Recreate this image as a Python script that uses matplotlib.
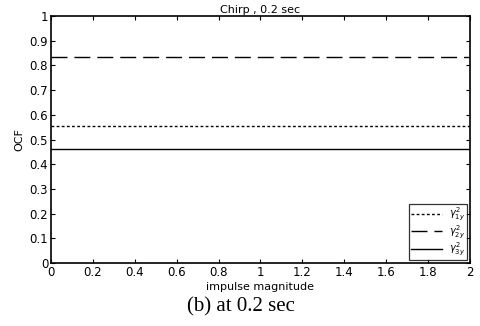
import matplotlib
matplotlib.use("Agg")
import matplotlib.pyplot as plt
import numpy as np

# impulse magnitude sweep and the (constant) OCF for each gamma
impulse = [0.0, 0.5, 1.0, 1.5, 2.0]
gamma_1y = [0.553, 0.553, 0.553, 0.553, 0.553]
gamma_2y = [0.833, 0.833, 0.833, 0.833, 0.833]
gamma_3y = [0.462, 0.462, 0.462, 0.462, 0.462]

x_ticks = [0, 0.2, 0.4, 0.6, 0.8, 1, 1.2, 1.4, 1.6, 1.8, 2]
x_tick_labels = ["0", "0.2", "0.4", "0.6", "0.8", "1", "1.2", "1.4", "1.6", "1.8", "2"]
y_ticks = [0, 0.1, 0.2, 0.3, 0.4, 0.5, 0.6, 0.7, 0.8, 0.9, 1]
y_tick_labels = ["0", "0.1", "0.2", "0.3", "0.4", "0.5", "0.6", "0.7", "0.8", "0.9", "1"]

fig = plt.figure(figsize=(4.81, 3.26), dpi=100)
ax = fig.add_axes([0.106, 0.193, 0.871, 0.758])

ax.plot(impulse, gamma_1y, linestyle=(0, (2, 1.7)), color="black", lw=1.0,
        label=r"$\gamma^2_{1y}$")
ax.plot(impulse, gamma_2y, linestyle=(0, (11.5, 5)), color="black", lw=1.0,
        label=r"$\gamma^2_{2y}$")
ax.plot(impulse, gamma_3y, "-", color="black", lw=1.0,
        label=r"$\gamma^2_{3y}$")

ax.set_xlim(0, 2)
ax.set_ylim(0, 1)
ax.set_xticks(x_ticks)
ax.set_xticklabels(x_tick_labels)
ax.set_yticks(y_ticks)
ax.set_yticklabels(y_tick_labels)
ax.tick_params(direction="in", top=True, right=True, labelsize=8.5, length=3, pad=2)
for s in ax.spines.values():
    s.set_linewidth(1.2)

ax.set_title("Chirp , 0.2 sec", fontsize=8, pad=2)
ax.set_xlabel("impulse magnitude", fontsize=8, labelpad=2)
ax.set_ylabel("OCF", fontsize=8, labelpad=4)

leg = ax.legend(loc="lower right", fontsize=7, frameon=True, fancybox=False,
                edgecolor="black", handlelength=3.2, handletextpad=0.7,
                borderpad=0.2, labelspacing=0.0, borderaxespad=0.3)
leg.get_frame().set_linewidth(0.9)

fig.text(0.5, 0.058, "(b) at 0.2 sec", ha="center", va="center",
         fontsize=15, family="Liberation Serif")

fig.savefig("out.png", dpi=100)
